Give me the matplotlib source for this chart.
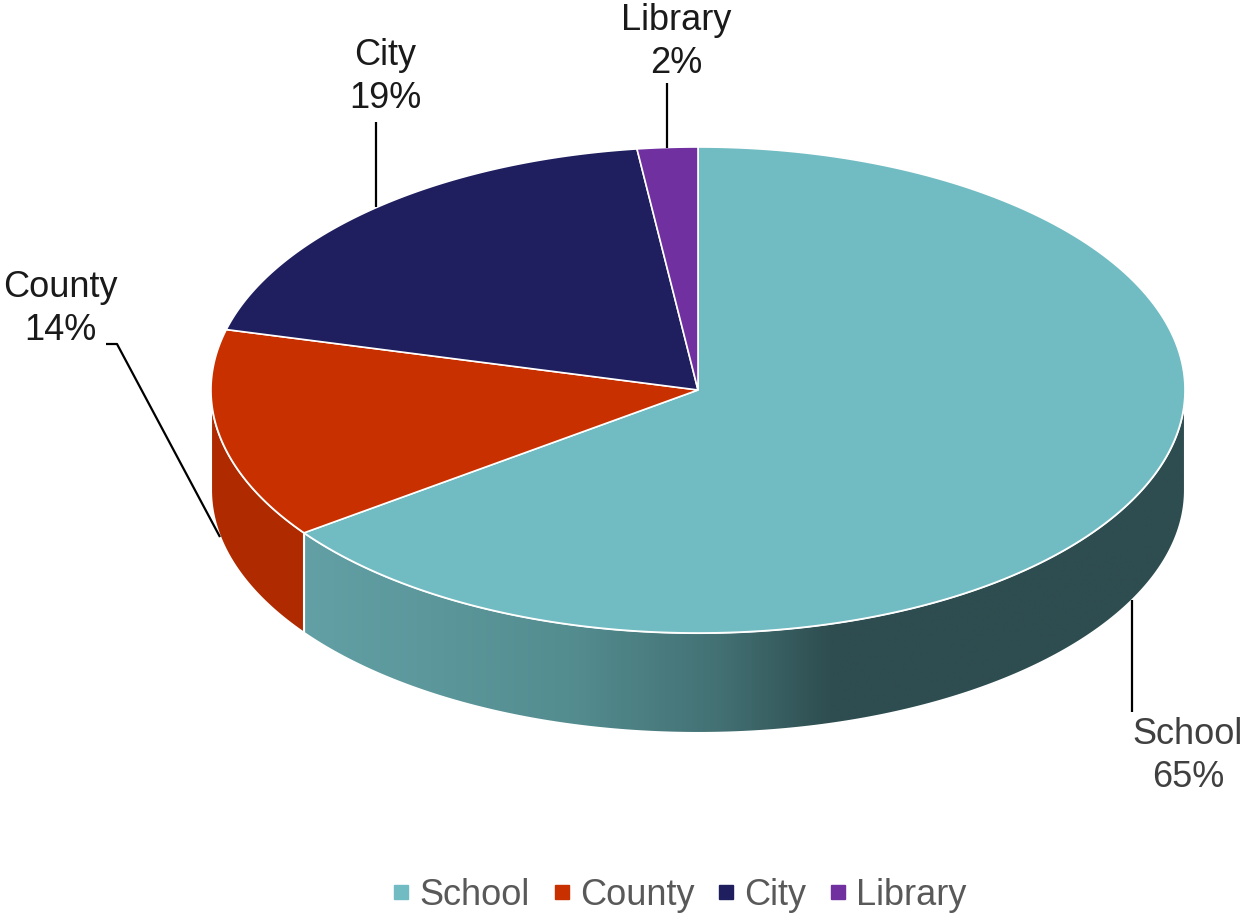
import numpy as np
import matplotlib
matplotlib.use("Agg")
import matplotlib.pyplot as plt
from matplotlib.patches import Polygon
from matplotlib.colors import LinearSegmentedColormap
from matplotlib.lines import Line2D

plt.rcParams['font.family'] = ['Liberation Sans', 'DejaVu Sans']

# Data
categories = ["School", "County", "City", "Library"]
shares = [65, 14, 19, 2]
top_colors = ["#70BCC2", "#C83000", "#1F1F60", "#7030A0"]
side_colors = ["#5F9EA0", "#B02A00", "#1A1A50", "#5E2888"]

# Geometry of the tilted pie (pixel units)
W, H = 1244, 913
cx, cy, rx, ry, depth = 698, 390, 487, 243, 100

fig = plt.figure(figsize=(W / 100, H / 100), dpi=100)
ax = fig.add_axes([0, 0, 1, 1])
ax.set_xlim(0, W)
ax.set_ylim(H, 0)
ax.axis("off")


def pt(deg, dy=0.0):
    t = np.radians(deg)
    return cx + rx * np.cos(t), cy - ry * np.sin(t) + dy


def arc(a1, a2, dy=0.0, n=200):
    ts = np.linspace(a1, a2, n)
    return [pt(t, dy) for t in ts]


# slice angles, clockwise from 12 o'clock
total = float(sum(shares))
bounds = [90.0]
for v in shares:
    bounds.append(bounds[-1] - 360.0 * v / total)

# side walls (front half of the rim: angles between -180 and 0)
school_grad = LinearSegmentedColormap.from_list(
    "school_side",
    [(0.0, "#62A0A5"), (0.3, "#548D90"), (0.47, "#437174"),
     (0.6, "#2E4D50"), (1.0, "#2E4D50")])

for i, (a1, a2) in enumerate(zip(bounds[:-1], bounds[1:])):
    for k in (0, -360):
        lo, hi = max(a2, -180 + k), min(a1, 0 + k)
        if lo >= hi:
            continue
        top = arc(hi, lo)
        bottom = arc(lo, hi, dy=depth)
        verts = top + bottom
        if i == 0:
            poly = Polygon(verts, closed=True, facecolor="none",
                           edgecolor="white", lw=1.5, zorder=2)
            ax.add_patch(poly)
            xs = [v[0] for v in verts]
            grad = np.linspace(0, 1, 512).reshape(1, -1)
            im = ax.imshow(grad, cmap=school_grad, aspect="auto",
                           extent=(min(xs), max(xs), cy + ry + depth, cy - 10),
                           zorder=1, interpolation="bilinear")
            im.set_clip_path(poly)
        else:
            ax.add_patch(Polygon(verts, closed=True, facecolor=side_colors[i],
                                 edgecolor="white", lw=1.5, zorder=2))

# top faces
for i, (a1, a2) in enumerate(zip(bounds[:-1], bounds[1:])):
    verts = [(cx, cy)] + arc(a1, a2)
    ax.add_patch(Polygon(verts, closed=True, facecolor=top_colors[i],
                         edgecolor="white", lw=1.2, zorder=3))

# labels with leader lines
fs = 26
dark = "#1A1A1A"
label_pos = {
    "School": (1188, 756, "#404040"),
    "County": (60, 309, dark),
    "City": (385, 77, dark),
    "Library": (676, 42, dark),
}
for name, v in zip(categories, shares):
    x, y, c = label_pos[name]
    ax.text(x, y, f"{name}\n{v}%", ha="center", va="center", fontsize=fs,
            color=c, linespacing=1.32, zorder=5)

leaders = [
    ([106, 117, 220], [344, 344, 537]),
    ([376, 376], [122, 207]),
    ([667, 667], [83, 148]),
    ([1132, 1132], [600, 712]),
]
for xs, ys in leaders:
    ax.plot(xs, ys, color="black", lw=1.6, zorder=4, solid_capstyle="butt")

# legend
handles = [Line2D([], [], marker="s", linestyle="none", markersize=9.5,
                  markerfacecolor=c, markeredgecolor=c) for c in top_colors]
leg = fig.legend(handles, categories, loc="center", ncol=4,
                 bbox_to_anchor=(0.5426, 1 - 895 / H), frameon=False,
                 fontsize=26, handletextpad=0.0, columnspacing=0.38,
                 handlelength=1.0, labelcolor="#595959")

fig.savefig("out.png", dpi=100)
